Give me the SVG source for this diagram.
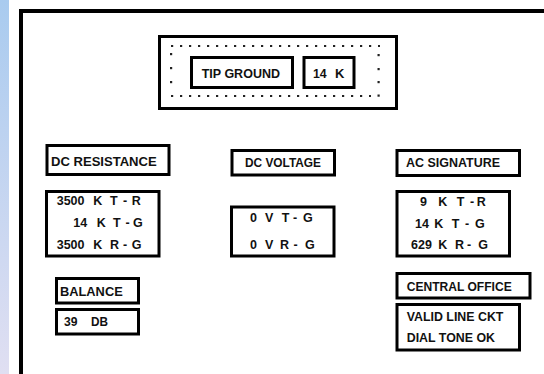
<svg xmlns="http://www.w3.org/2000/svg" width="544" height="374" viewBox="0 0 544 374">
<defs>
<linearGradient id="strip" x1="0" y1="0" x2="0" y2="1">
<stop offset="0" stop-color="#a9cbef"/>
<stop offset="1" stop-color="#e0dff2"/>
</linearGradient>
</defs>
<style>
.box{fill:#fff;stroke:#000;stroke-width:3}
.h{font-family:"Liberation Sans",Arial,sans-serif;font-weight:bold;font-size:13px;fill:#111}
.v{font-family:"Liberation Sans",Arial,sans-serif;font-weight:bold;font-size:12.5px;fill:#111}
.dot{fill:#222}
</style>
<rect x="0" y="0" width="544" height="374" fill="#fff"/>
<rect x="0" y="0" width="9" height="374" fill="url(#strip)"/>
<rect x="21" y="11" width="600" height="420" fill="#fff" stroke="#000" stroke-width="4"/>

<g id="tip-panel">
<rect class="box" x="159.5" y="36.5" width="237" height="72"/>
<line x1="171" y1="46" x2="380" y2="46" stroke="#222" stroke-width="2.2" stroke-dasharray="2.2 6.8"/>
<line x1="171" y1="96" x2="371" y2="96" stroke="#222" stroke-width="2.2" stroke-dasharray="2.2 6.8"/>
<rect class="dot" x="170" y="53" width="2.2" height="2.2"/>
<rect class="dot" x="170" y="67" width="2.2" height="2.2"/>
<rect class="dot" x="170" y="81" width="2.2" height="2.2"/>
<rect class="dot" x="377.5" y="54" width="2.2" height="2.2"/>
<rect class="dot" x="377.5" y="68" width="2.2" height="2.2"/>
<rect class="dot" x="377.5" y="81" width="2.2" height="2.2"/>
<rect class="dot" x="377.5" y="94.5" width="2.2" height="2.2"/>
</g>

<g id="tip-ground">
<rect class="box" x="191.5" y="57.5" width="101" height="30"/>
<text class="h" x="201.7" y="78" textLength="78.3" lengthAdjust="spacingAndGlyphs">TIP GROUND</text>
</g>

<g id="tip-value">
<rect class="box" x="304" y="57.5" width="50" height="30"/>
<text class="h" x="313" y="78" textLength="13.7" lengthAdjust="spacingAndGlyphs">14</text>
<text class="h" x="335" y="78">K</text>
</g>

<g id="dc-resistance">
<rect class="box" x="47" y="145.5" width="122" height="29"/>
<text class="h" x="51" y="166" textLength="105.7" lengthAdjust="spacingAndGlyphs">DC RESISTANCE</text>
</g>

<g id="dc-resistance-values">
<rect class="box" x="46.5" y="191.5" width="112.5" height="64.5"/>
<text class="v" y="204.5"><tspan x="56.7">3500</tspan><tspan x="93.3">K</tspan><tspan x="110">T</tspan><tspan x="123">-</tspan><tspan x="131.7">R</tspan></text>
<text class="v" y="227"><tspan x="73.3">14</tspan><tspan x="96.7">K</tspan><tspan x="113">T</tspan><tspan x="125.5">-</tspan><tspan x="133">G</tspan></text>
<text class="v" y="248.5"><tspan x="56.7">3500</tspan><tspan x="93.3">K</tspan><tspan x="110">R</tspan><tspan x="123">-</tspan><tspan x="131.7">G</tspan></text>
</g>

<g id="dc-voltage">
<rect class="box" x="232" y="150.5" width="102.5" height="24.5"/>
<text class="h" x="245" y="166.5" textLength="76" lengthAdjust="spacingAndGlyphs">DC VOLTAGE</text>
</g>

<g id="dc-voltage-values">
<rect class="box" x="231.5" y="207" width="102.5" height="49"/>
<text class="v" y="222"><tspan x="250">0</tspan><tspan x="265">V</tspan><tspan x="281.7">T</tspan><tspan x="293">-</tspan><tspan x="303">G</tspan></text>
<text class="v" y="248.5"><tspan x="250">0</tspan><tspan x="265">V</tspan><tspan x="280">R</tspan><tspan x="293.5">-</tspan><tspan x="305">G</tspan></text>
</g>

<g id="ac-signature">
<rect class="box" x="397" y="150.5" width="122.5" height="25"/>
<text class="h" x="406" y="166.5" textLength="94" lengthAdjust="spacingAndGlyphs">AC SIGNATURE</text>
</g>

<g id="ac-signature-values">
<rect class="box" x="397" y="191.5" width="112.5" height="64.5"/>
<text class="v" y="206"><tspan x="420">9</tspan><tspan x="438.3">K</tspan><tspan x="456.7">T</tspan><tspan x="470">-</tspan><tspan x="476.7">R</tspan></text>
<text class="v" y="227.5"><tspan x="415">14</tspan><tspan x="434.3">K</tspan><tspan x="451.7">T</tspan><tspan x="465">-</tspan><tspan x="475">G</tspan></text>
<text class="v" y="248.5"><tspan x="411">629</tspan><tspan x="438.3">K</tspan><tspan x="455">R</tspan><tspan x="467">-</tspan><tspan x="478.3">G</tspan></text>
</g>

<g id="balance">
<rect class="box" x="56.5" y="278.5" width="82" height="24.5"/>
<text class="h" x="60" y="296" textLength="62.7" lengthAdjust="spacingAndGlyphs">BALANCE</text>
</g>

<g id="balance-value">
<rect class="box" x="56.5" y="309.5" width="82" height="24.5"/>
<text class="h" x="64" y="326" textLength="13.5" lengthAdjust="spacingAndGlyphs">39</text>
<text class="h" x="91" y="326" textLength="17" lengthAdjust="spacingAndGlyphs">DB</text>
</g>

<g id="central-office">
<rect class="box" x="397" y="273.5" width="133" height="24.5"/>
<text class="h" x="406.7" y="290.5" textLength="105" lengthAdjust="spacingAndGlyphs">CENTRAL OFFICE</text>
</g>

<g id="central-office-status">
<rect class="box" x="397" y="304.5" width="122.5" height="45.5"/>
<text class="h" x="406.7" y="321" textLength="96.7" lengthAdjust="spacingAndGlyphs">VALID LINE CKT</text>
<text class="h" x="406.7" y="342" textLength="88.3" lengthAdjust="spacingAndGlyphs">DIAL TONE OK</text>
</g>

<g id="connectors"></g>
</svg>
